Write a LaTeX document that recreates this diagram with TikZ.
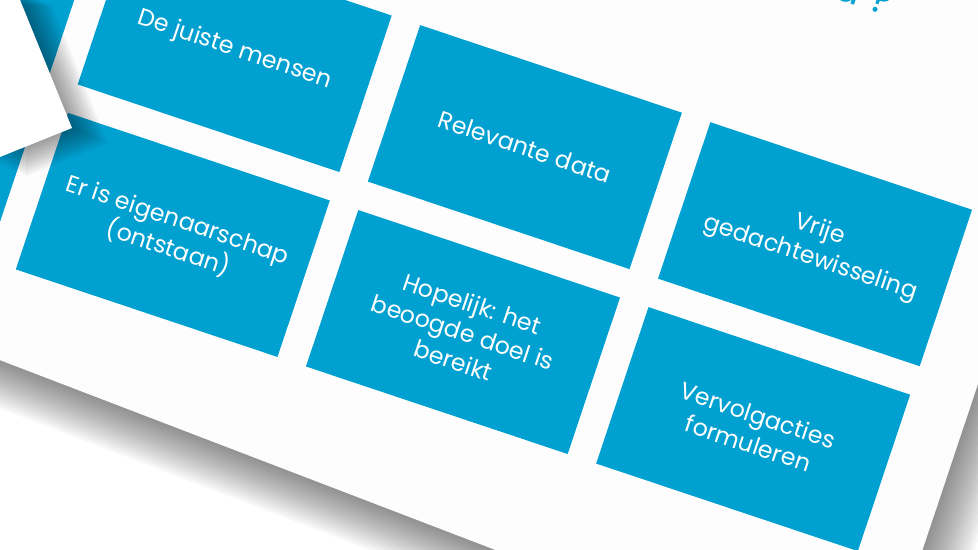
\documentclass[tikz,border=0pt]{standalone}
\usepackage{fontspec}
\setmainfont{Poppins}
\definecolor{tileblue}{RGB}{0,160,209}
\definecolor{paper}{RGB}{253,253,253}
\tikzset{
	tile/.style={fill=tileblue,text=white,minimum width=5.52cm,minimum height=3.3cm,inner sep=0pt,align=center,font=\fontsize{13.5}{17}\selectfont},
	kop/.style={text=tileblue,inner sep=0pt,font=\fontsize{23}{26}\selectfont},
}
\begin{document}
\begin{tikzpicture}[x=0.02cm,y=-0.02cm]
			\useasboundingbox (0,0) rectangle (978,550);
			\clip (0,0) rectangle (978,550);
			\fill[white] (0,0) rectangle (978,550);
			% schaduw van de dia
			\foreach \k in {1,...,16}
			\fill[black,opacity=.03,shift={(2.03*\k,3.79*\k)}] (-50,-50)--(1123,-50)--(874,695)--(-50,341)--cycle;
			\fill[paper] (-50,-50)--(1123,-50)--(874,695)--(-50,341)--cycle;
			\node[kop,rotate=-18.5,anchor=base east] (titel) at (888,16.5) {a ?};
			\begin{scope}[shift={(130,-72)},rotate=-18.5,transform shape]
			\node[tile] (links1) at (-168,82.5) {};
			\node[tile] (links2) at (-168,277.5) {};
			\node[tile] (juist) at (138,82.5) {De juiste mensen};
			\node[tile] (relevant) at (444,82.5) {Relevante data};
			\node[tile] (vrij) at (750,82.5) {Vrije\\gedachtewisseling};
			\node[tile] (eigen) at (138,277.5) {Er is eigenaarschap\\(ontstaan)};
			\node[tile] (hopelijk) at (444,277.5) {Hopelijk: het\\beoogde doel is\\bereikt};
			\node[tile] (vervolg) at (750,277.5) {Vervolgacties\\formuleren};
			\end{scope}
			% losse dia linksboven
			\foreach \k in {1,...,12}
			\fill[black,opacity=.035,shift={(3*\k,1.27*\k)}] (-10,-10)--(16,-10)--(72,128)--(-10,161)--cycle;
			\fill[white] (-10,-10)--(16,-10)--(72,128)--(-10,161)--cycle;
\end{tikzpicture}
\end{document}
